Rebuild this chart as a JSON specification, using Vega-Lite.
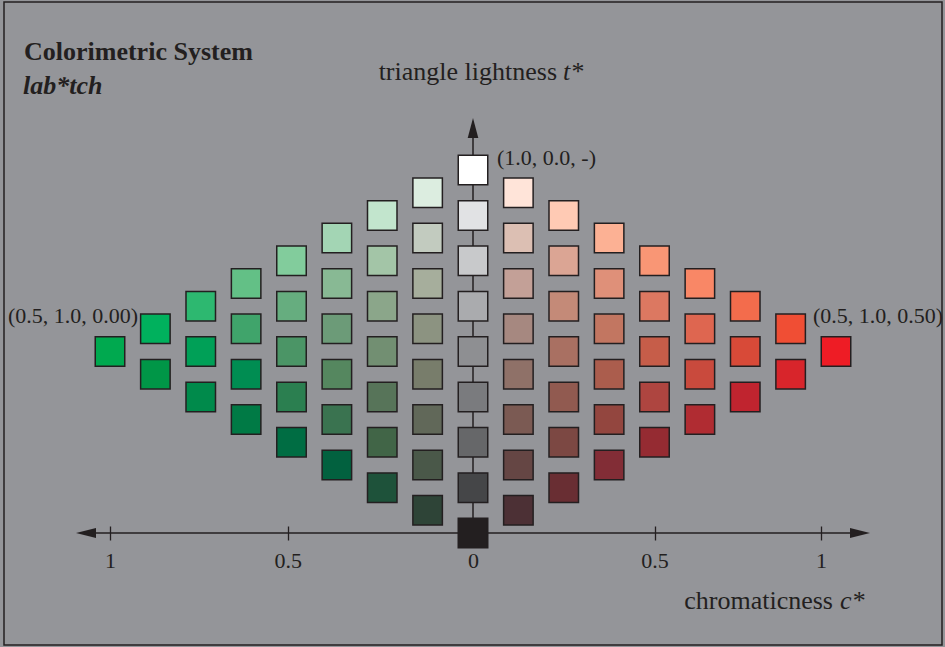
{
  "$schema": "https://vega.github.io/schema/vega-lite/v6.json",
  "width": 938,
  "height": 643,
  "autosize": {"type": "none"},
  "padding": {"left": 4, "top": 2, "right": 3, "bottom": 2},
  "background": "#949599",
  "config": {"view": {"stroke": "#231f20", "strokeWidth": 1.5}, "font": "Liberation Serif"},
  "datasets": {
    "squares": [
      {"c": 0, "t": 1, "color": "#ffffff"},
      {"c": 0, "t": 0.875, "color": "#e1e2e4"},
      {"c": 0, "t": 0.75, "color": "#c8c9cb"},
      {"c": 0, "t": 0.625, "color": "#aaabae"},
      {"c": 0, "t": 0.5, "color": "#8e8f92"},
      {"c": 0, "t": 0.375, "color": "#7a7b7e"},
      {"c": 0, "t": 0.25, "color": "#666769"},
      {"c": 0, "t": 0.125, "color": "#454648"},
      {"c": 0, "t": 0, "color": "#231f20"},

      {"c": -0.125, "t": 0.9375, "color": "#dcede0"},
      {"c": -0.125, "t": 0.8125, "color": "#c2cbbf"},
      {"c": -0.125, "t": 0.6875, "color": "#a6ae9c"},
      {"c": -0.125, "t": 0.5625, "color": "#8c9381"},
      {"c": -0.125, "t": 0.4375, "color": "#787d6b"},
      {"c": -0.125, "t": 0.3125, "color": "#616859"},
      {"c": -0.125, "t": 0.1875, "color": "#4a5849"},
      {"c": -0.125, "t": 0.0625, "color": "#2e4437"},

      {"c": 0.125, "t": 0.9375, "color": "#ffe4d9"},
      {"c": 0.125, "t": 0.8125, "color": "#dcbfb3"},
      {"c": 0.125, "t": 0.6875, "color": "#c3a097"},
      {"c": 0.125, "t": 0.5625, "color": "#a68880"},
      {"c": 0.125, "t": 0.4375, "color": "#8f7168"},
      {"c": 0.125, "t": 0.3125, "color": "#7b5a53"},
      {"c": 0.125, "t": 0.1875, "color": "#654644"},
      {"c": 0.125, "t": 0.0625, "color": "#4c3035"},

      {"c": -0.25, "t": 0.875, "color": "#c2e5cd"},
      {"c": -0.25, "t": 0.75, "color": "#a3c5a7"},
      {"c": -0.25, "t": 0.625, "color": "#8ba68a"},
      {"c": -0.25, "t": 0.5, "color": "#728f72"},
      {"c": -0.25, "t": 0.375, "color": "#577459"},
      {"c": -0.25, "t": 0.25, "color": "#416547"},
      {"c": -0.25, "t": 0.125, "color": "#1e523a"},

      {"c": 0.25, "t": 0.875, "color": "#ffcab4"},
      {"c": 0.25, "t": 0.75, "color": "#dba594"},
      {"c": 0.25, "t": 0.625, "color": "#c48a78"},
      {"c": 0.25, "t": 0.5, "color": "#a97062"},
      {"c": 0.25, "t": 0.375, "color": "#915a50"},
      {"c": 0.25, "t": 0.25, "color": "#7c4843"},
      {"c": 0.25, "t": 0.125, "color": "#692e33"},

      {"c": -0.375, "t": 0.8125, "color": "#a3d5b4"},
      {"c": -0.375, "t": 0.6875, "color": "#88b994"},
      {"c": -0.375, "t": 0.5625, "color": "#6c9b78"},
      {"c": -0.375, "t": 0.4375, "color": "#55875f"},
      {"c": -0.375, "t": 0.3125, "color": "#3a7350"},
      {"c": -0.375, "t": 0.1875, "color": "#02613f"},

      {"c": 0.375, "t": 0.8125, "color": "#fcb194"},
      {"c": 0.375, "t": 0.6875, "color": "#df9079"},
      {"c": 0.375, "t": 0.5625, "color": "#c27661"},
      {"c": 0.375, "t": 0.4375, "color": "#ab5d4d"},
      {"c": 0.375, "t": 0.3125, "color": "#93463f"},
      {"c": 0.375, "t": 0.1875, "color": "#822d36"},

      {"c": -0.5, "t": 0.75, "color": "#82cc9c"},
      {"c": -0.5, "t": 0.625, "color": "#66ad7f"},
      {"c": -0.5, "t": 0.5, "color": "#4b9566"},
      {"c": -0.5, "t": 0.375, "color": "#2b7f50"},
      {"c": -0.5, "t": 0.25, "color": "#006d43"},

      {"c": 0.5, "t": 0.75, "color": "#f99675"},
      {"c": 0.5, "t": 0.625, "color": "#dc7861"},
      {"c": 0.5, "t": 0.5, "color": "#c65d49"},
      {"c": 0.5, "t": 0.375, "color": "#ae4540"},
      {"c": 0.5, "t": 0.25, "color": "#952b32"},

      {"c": -0.625, "t": 0.6875, "color": "#63c086"},
      {"c": -0.625, "t": 0.5625, "color": "#40a46b"},
      {"c": -0.625, "t": 0.4375, "color": "#008d52"},
      {"c": -0.625, "t": 0.3125, "color": "#007a45"},

      {"c": 0.625, "t": 0.6875, "color": "#f98766"},
      {"c": 0.625, "t": 0.5625, "color": "#de6650"},
      {"c": 0.625, "t": 0.4375, "color": "#c94a3d"},
      {"c": 0.625, "t": 0.3125, "color": "#b02c32"},

      {"c": -0.75, "t": 0.625, "color": "#2db870"},
      {"c": -0.75, "t": 0.5, "color": "#00a057"},
      {"c": -0.75, "t": 0.375, "color": "#008a4b"},

      {"c": 0.75, "t": 0.625, "color": "#f36c4c"},
      {"c": 0.75, "t": 0.5, "color": "#d84a38"},
      {"c": 0.75, "t": 0.375, "color": "#c0242f"},

      {"c": -0.875, "t": 0.5625, "color": "#00b15d"},
      {"c": -0.875, "t": 0.4375, "color": "#009647"},

      {"c": 0.875, "t": 0.5625, "color": "#f04e34"},
      {"c": 0.875, "t": 0.4375, "color": "#d8252b"},

      {"c": -1, "t": 0.5, "color": "#00a94f"},
      {"c": 1, "t": 0.5, "color": "#ee1c25"}
    ],
    "lines": [
      {"c": -1.066, "c2": 1.066, "t": 0, "t2": 0},
      {"c": 0, "c2": 0, "t": 0, "t2": 1.11}
    ],
    "arrows": [
      {"c": 0, "t": 1.1157, "dir": "up"},
      {"c": -1.0661, "t": 0, "dir": "left"},
      {"c": 1.0661, "t": 0, "dir": "right"}
    ],
    "boldText": [
      {"c": -1.2369, "t": 1.3030, "text": "Colorimetric System"}
    ],
    "boldItalicText": [
      {"c": -1.2397, "t": 1.2094, "text": "lab*tch"}
    ],
    "axisNames": [
      {"c": 0.2314, "t": 1.2479, "text": "triangle lightness"},
      {"c": 0.9917, "t": -0.2094, "text": "chromaticness"}
    ],
    "axisSymbols": [
      {"c": 0.2479, "t": 1.2479, "text": "t*"},
      {"c": 1.0110, "t": -0.2094, "text": "c*"}
    ],
    "corners": [
      {"c": 0.0661, "t": 1.0138, "text": "(1.0, 0.0, -)"},
      {"c": -1.2810, "t": 0.5785, "text": "(0.5, 1.0, 0.00)"},
      {"c": 0.9366, "t": 0.5785, "text": "(0.5, 1.0, 0.50)"}
    ]
  },
  "encoding": {
    "x": {
      "field": "c",
      "type": "quantitative",
      "scale": {"domain": [-1.2920, 1.2920], "nice": false, "zero": false},
      "axis": {
        "orient": "bottom",
        "offset": -119,
        "domain": false,
        "grid": false,
        "ticks": true,
        "tickSize": 14,
        "tickWidth": 1.3,
        "tickColor": "#231f20",
        "values": [-1, -0.51, 0, 0.5, 0.959],
        "labelExpr": "abs(datum.value) > 0.9 ? '1' : datum.value == 0 ? '0' : '0.5'",
        "labelFont": "Liberation Serif",
        "labelFontSize": 22,
        "labelColor": "#231f20",
        "labelPadding": 27,
        "labelBaseline": "alphabetic",
        "labelFlush": false,
        "labelOverlap": false,
        "title": null
      }
    },
    "y": {
      "field": "t",
      "type": "quantitative",
      "scale": {"domain": [-0.3085, 1.4628], "nice": false, "zero": false},
      "axis": null
    }
  },
  "layer": [
    {
      "data": {"name": "lines"},
      "mark": {"type": "rule", "stroke": "#231f20", "strokeWidth": 1.5},
      "encoding": {
        "x2": {"field": "c2"},
        "y2": {"field": "t2"}
      }
    },
    {
      "data": {"name": "squares"},
      "mark": {"type": "square", "size": 870, "filled": true, "opacity": 1, "stroke": "#231f20", "strokeWidth": 1.5},
      "encoding": {
        "color": {"field": "color", "type": "nominal", "scale": null, "legend": null}
      }
    },
    {
      "data": {"name": "arrows"},
      "mark": {"type": "point", "filled": true, "opacity": 1, "size": 400, "color": "#231f20", "strokeWidth": 0},
      "encoding": {
        "shape": {
          "field": "dir",
          "type": "nominal",
          "scale": {
            "domain": ["up", "left", "right"],
            "range": ["M0,-1L0.53,1L-0.53,1Z", "M-1,0L1,-0.5L1,0.5Z", "M1,0L-1,-0.5L-1,0.5Z"]
          },
          "legend": null
        }
      }
    },
    {
      "data": {"name": "boldText"},
      "mark": {"type": "text", "align": "left", "baseline": "alphabetic", "font": "Liberation Serif", "fontSize": 26, "fontWeight": "bold", "fill": "#231f20"},
      "encoding": {"text": {"field": "text"}}
    },
    {
      "data": {"name": "boldItalicText"},
      "mark": {"type": "text", "align": "left", "baseline": "alphabetic", "font": "Liberation Serif", "fontSize": 26, "fontWeight": "bold", "fontStyle": "italic", "fill": "#231f20"},
      "encoding": {"text": {"field": "text"}}
    },
    {
      "data": {"name": "axisNames"},
      "mark": {"type": "text", "align": "right", "baseline": "alphabetic", "font": "Liberation Serif", "fontSize": 26, "fill": "#231f20"},
      "encoding": {"text": {"field": "text"}}
    },
    {
      "data": {"name": "axisSymbols"},
      "mark": {"type": "text", "align": "left", "baseline": "alphabetic", "font": "Liberation Serif", "fontSize": 26, "fontStyle": "italic", "fill": "#231f20"},
      "encoding": {"text": {"field": "text"}}
    },
    {
      "data": {"name": "corners"},
      "mark": {"type": "text", "align": "left", "baseline": "alphabetic", "font": "Liberation Serif", "fontSize": 22, "fill": "#231f20"},
      "encoding": {"text": {"field": "text"}}
    }
  ]
}
